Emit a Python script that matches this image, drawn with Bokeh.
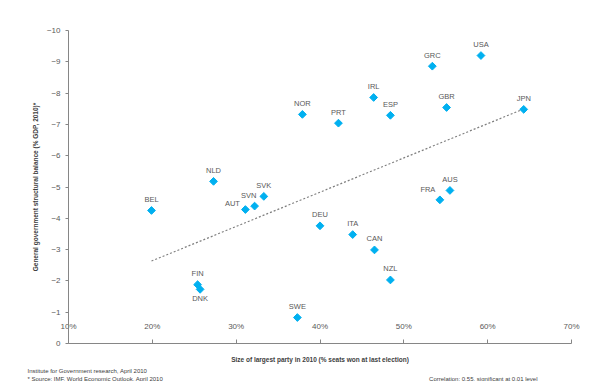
import numpy as np
from bokeh.plotting import figure
from bokeh.models import (ColumnDataSource, LabelSet, Title, Range1d, FixedTicker,
                          PrintfTickFormatter)
from bokeh.core.properties import value
from bokeh.embed import file_html
from bokeh.resources import INLINE

# ---- data ----
countries = ["USA", "GRC", "IRL", "ESP", "NOR", "PRT", "GBR", "JPN", "AUS", "FRA",
             "DEU", "ITA", "CAN", "NZL", "SWE", "BEL", "AUT", "SVN", "SVK", "NLD",
             "FIN", "DNK"]
party_size = [59.2, 53.4, 46.4, 48.4, 37.9, 42.2, 55.1, 64.3, 55.5, 54.3,
              40.0, 43.9, 46.5, 48.4, 37.3, 19.9, 31.1, 32.2, 33.3, 27.3,
              25.4, 25.7]
struct_balance = [-9.20, -8.86, -7.86, -7.29, -7.32, -7.04, -7.54, -7.48, -4.89, -4.59,
                  -3.76, -3.48, -2.99, -2.03, -0.83, -4.25, -4.28, -4.39, -4.70, -5.18,
                  -1.88, -1.73]
x_ticks = [10, 20, 30, 40, 50, 60, 70]
y_ticks = [0, -1, -2, -3, -4, -5, -6, -7, -8, -9, -10]

# label placement (style, not data)
offsets = {"AUT": (-13, 6), "SVN": (-6, 11), "FRA": (-12, 10), "DNK": (0, -9)}
xo = [offsets.get(c, (0, 11))[0] for c in countries]
yo = [offsets.get(c, (0, 11))[1] for c in countries]

FONT = "Liberation Sans"
TXT = "#595959"
AX = "#868686"

src = ColumnDataSource(dict(x=party_size, y=struct_balance, name=countries, xo=xo, yo=yo))

p = figure(frame_width=503, frame_height=313, output_backend="svg", toolbar_location=None,
           x_range=Range1d(10, 70), y_range=Range1d(0, -10),
           min_border_left=68, min_border_right=10, min_border_top=30, min_border_bottom=0)
p.outline_line_color = None
p.xgrid.grid_line_color = None
p.ygrid.grid_line_color = None
p.background_fill_color = "white"
p.border_fill_color = "white"

# trend line from least squares fit
coef = np.polyfit(party_size, struct_balance, 1)
tx = np.array([min(party_size), max(party_size)])
p.line(tx, np.polyval(coef, tx), line_color="#7f7f7f", line_dash="2 2", line_width=1.2)

p.scatter("x", "y", source=src, marker="square", angle=np.pi / 4, size=5.5,
          fill_color="#00b0f0", line_color="#00b0f0")

labels = LabelSet(x="x", y="y", text="name", source=src, x_offset="xo", y_offset="yo",
                  text_align="center", text_baseline="middle", text_font=value(FONT),
                  text_font_size="7.5px", text_color=TXT)
p.add_layout(labels)

# axes
xa = p.xaxis[0]
xa.ticker = FixedTicker(ticks=x_ticks)
xa.formatter = PrintfTickFormatter(format="%d%%")
xa.major_tick_in = 4
xa.major_tick_out = 0
xa.minor_tick_line_color = None
xa.major_label_standoff = -22
xa.axis_line_color = AX
xa.major_tick_line_color = AX
xa.major_label_text_font = FONT
xa.major_label_text_font_size = "8px"
xa.major_label_text_color = TXT
xa.axis_label = "Size of largest party in 2010 (% seats won at last election)"
xa.axis_label_text_font = FONT
xa.axis_label_text_font_size = "6.5px"
xa.axis_label_text_font_style = "bold"
xa.axis_label_text_color = "#404040"
xa.axis_label_standoff = 22

ya = p.yaxis[0]
ya.ticker = FixedTicker(ticks=y_ticks)
ya.major_tick_in = 0
ya.major_tick_out = 3
ya.minor_tick_line_color = None
ya.major_label_standoff = 5
ya.axis_line_color = AX
ya.major_tick_line_color = AX
ya.major_label_text_font = FONT
ya.major_label_text_font_size = "8px"
ya.major_label_text_color = TXT
ya.axis_label = "General government structural balance (% GDP, 2010)*"
ya.axis_label_text_font = FONT
ya.axis_label_text_font_size = "6.5px"
ya.axis_label_text_font_style = "bold"
ya.axis_label_text_color = "#404040"
ya.axis_label_standoff = 5

# footnotes
common = dict(text_font=FONT, text_font_size="6px", text_color="#404040",
              text_font_style="normal")
p.add_layout(Title(text="Institute for Government research, April 2010", align="left",
                   offset=-41, standoff=0, **common), "below")
p.add_layout(Title(text="* Source: IMF, World Economic Outlook, April 2010", align="left",
                   offset=-41, standoff=0, **common), "below")
p.add_layout(Title(text="Correlation: 0.55, significant at 0.01 level", align="right",
                   vertical_align="top", offset=34, standoff=-12, **common), "below")

open("out.html", "w").write(file_html(p, INLINE))
